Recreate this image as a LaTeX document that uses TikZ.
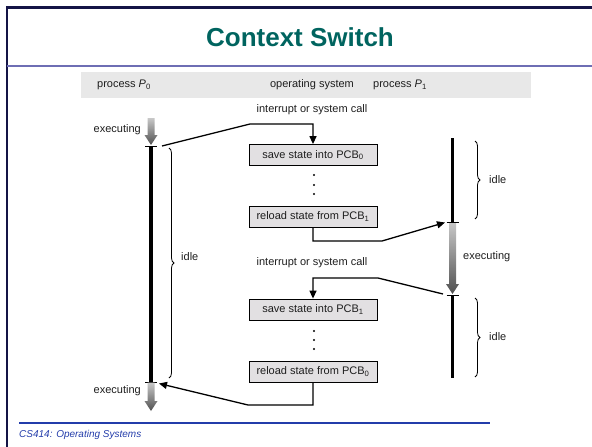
\documentclass[tikz,border=0pt]{standalone}
\usepackage{fontspec}
\setmainfont{Liberation Sans}
\usetikzlibrary{arrows.meta,decorations.pathreplacing}
\definecolor{titleteal}{RGB}{0,100,95}
\definecolor{framenavy}{RGB}{20,20,70}
\definecolor{sepviolet}{RGB}{110,110,180}
\definecolor{footblue}{RGB}{35,60,170}
\definecolor{bandgray}{RGB}{232,232,232}
\definecolor{boxgray}{RGB}{226,224,226}
\definecolor{inkgray}{RGB}{30,30,30}
\definecolor{shadelight}{RGB}{200,200,200}
\definecolor{shadedark}{RGB}{80,80,80}
\newcommand\gradarrow[3]{%
  \shade[top color=shadelight, bottom color=shadedark]
    ({#1-3.5},#2) -- ({#1+3.5},#2) -- ({#1+3.5},{#3-10}) -- ({#1+6.5},{#3-10})
    -- (#1,#3) -- ({#1-6.5},{#3-10}) -- ({#1-3.5},{#3-10}) -- cycle;}
\begin{document}
\begin{tikzpicture}[x=1pt,y=-1pt,
  font=\fontsize{11}{13}\selectfont,
  lbl/.style={text=inkgray, inner sep=0pt},
  osbox/.style={draw=black, line width=0.8pt, fill=boxgray, minimum width=128pt,
    minimum height=21pt, inner sep=0pt, text=inkgray},
  conn/.style={line width=1.3pt, -{Triangle[length=8pt,width=7pt]}},
  timeline/.style={line width=3.6pt},
  tickmark/.style={line width=0.8pt},
  idlebrace/.style={decorate, decoration={brace, amplitude=5pt}, line width=0.8pt},
  dotmark/.style={circle, fill=black, inner sep=0pt, minimum size=2.2pt}]
\useasboundingbox (0,0) rectangle (592,447);
% slide frame
\draw[framenavy, line width=2.5pt] (7,447) -- (7,7.5) -- (592,7.5);
\draw[sepviolet, line width=2pt] (7,65.5) -- (592,65.5);
\node[text=titleteal, font=\fontsize{26}{30}\selectfont\bfseries] (title) at (300,37) {Context Switch};
% footer
\draw[footblue, line width=1.5pt] (19,423) -- (490,423);
\node[anchor=west, text=footblue, inner sep=0pt, font=\fontsize{10}{12}\selectfont\itshape] (footer) at (19,435) {CS414: Operating Systems};
% header band
\fill[bandgray] (81,72) rectangle (531,98);
\node[lbl] (h0) at (124,85) {process \textit{P}\textsubscript{0}};
\node[lbl] (hos) at (312,85) {operating system};
\node[lbl] (h1) at (400,85) {process \textit{P}\textsubscript{1}};
% coordinates of timelines
\coordinate (p0a) at (151,146);
\coordinate (p0b) at (151,382);
\coordinate (p1top) at (452.5,138);
\coordinate (p1a) at (452.5,222);
\coordinate (p1b) at (452.5,295);
\coordinate (p1end) at (452.5,378);
% process P0
\gradarrow{151}{118}{145}
\draw[timeline] (p0a) -- (p0b);
\draw[tickmark] (145,146) -- (157,146);
\draw[tickmark] (145,382) -- (157,382);
\gradarrow{151}{382.5}{411}
\node[lbl, anchor=east] (ex0a) at (141,130) {executing};
\node[lbl, anchor=east] (ex0b) at (141,391) {executing};
\draw[idlebrace] (169,148) -- (169,378);
\node[lbl, anchor=west] (idle0) at (181,257) {idle};
% process P1
\draw[timeline] (p1top) -- (p1a);
\gradarrow{452.5}{222}{294}
\draw[tickmark] (446.5,222) -- (458.5,222);
\draw[tickmark] (446.5,295) -- (458.5,295);
\draw[timeline] (p1b) -- (p1end);
\node[lbl, anchor=west] (ex1) at (463,257) {executing};
\draw[idlebrace] (475,141) -- (475,219);
\node[lbl, anchor=west] (idle1a) at (489,180) {idle};
\draw[idlebrace] (475,298) -- (475,377);
\node[lbl, anchor=west] (idle1b) at (489,337) {idle};
% operating system
\node[lbl] (irq1) at (312,110) {interrupt or system call};
\node[osbox] (save0) at (313,155) {save state into PCB\textsubscript{0}};
\node[dotmark] (d1) at (314,175) {};
\node[dotmark] (d2) at (314,185) {};
\node[dotmark] (d3) at (314,194) {};
\node[osbox] (reload1) at (313,216.5) {reload state from PCB\textsubscript{1}};
\node[lbl] (irq2) at (312,263) {interrupt or system call};
\node[osbox] (save1) at (313,309.5) {save state into PCB\textsubscript{1}};
\node[dotmark] (d4) at (314,331) {};
\node[dotmark] (d5) at (314,340) {};
\node[dotmark] (d6) at (314,349) {};
\node[osbox] (reload0) at (313,371.5) {reload state from PCB\textsubscript{0}};
% connectors
\coordinate (a1s) at (162,146);
\coordinate (a2e) at (445,222.5);
\coordinate (a3s) at (443,294);
\coordinate (a4e) at (159,383.5);
\draw[conn] (a1s) -- (250,124) -| (save0.north);
\draw[conn] (reload1.south) |- (382,241) -- (a2e);
\draw[conn] (a3s) -- (378,278) -| (save1.north);
\draw[conn] (reload0.south) |- (248,405) -- (a4e);
\end{tikzpicture}
\end{document}
